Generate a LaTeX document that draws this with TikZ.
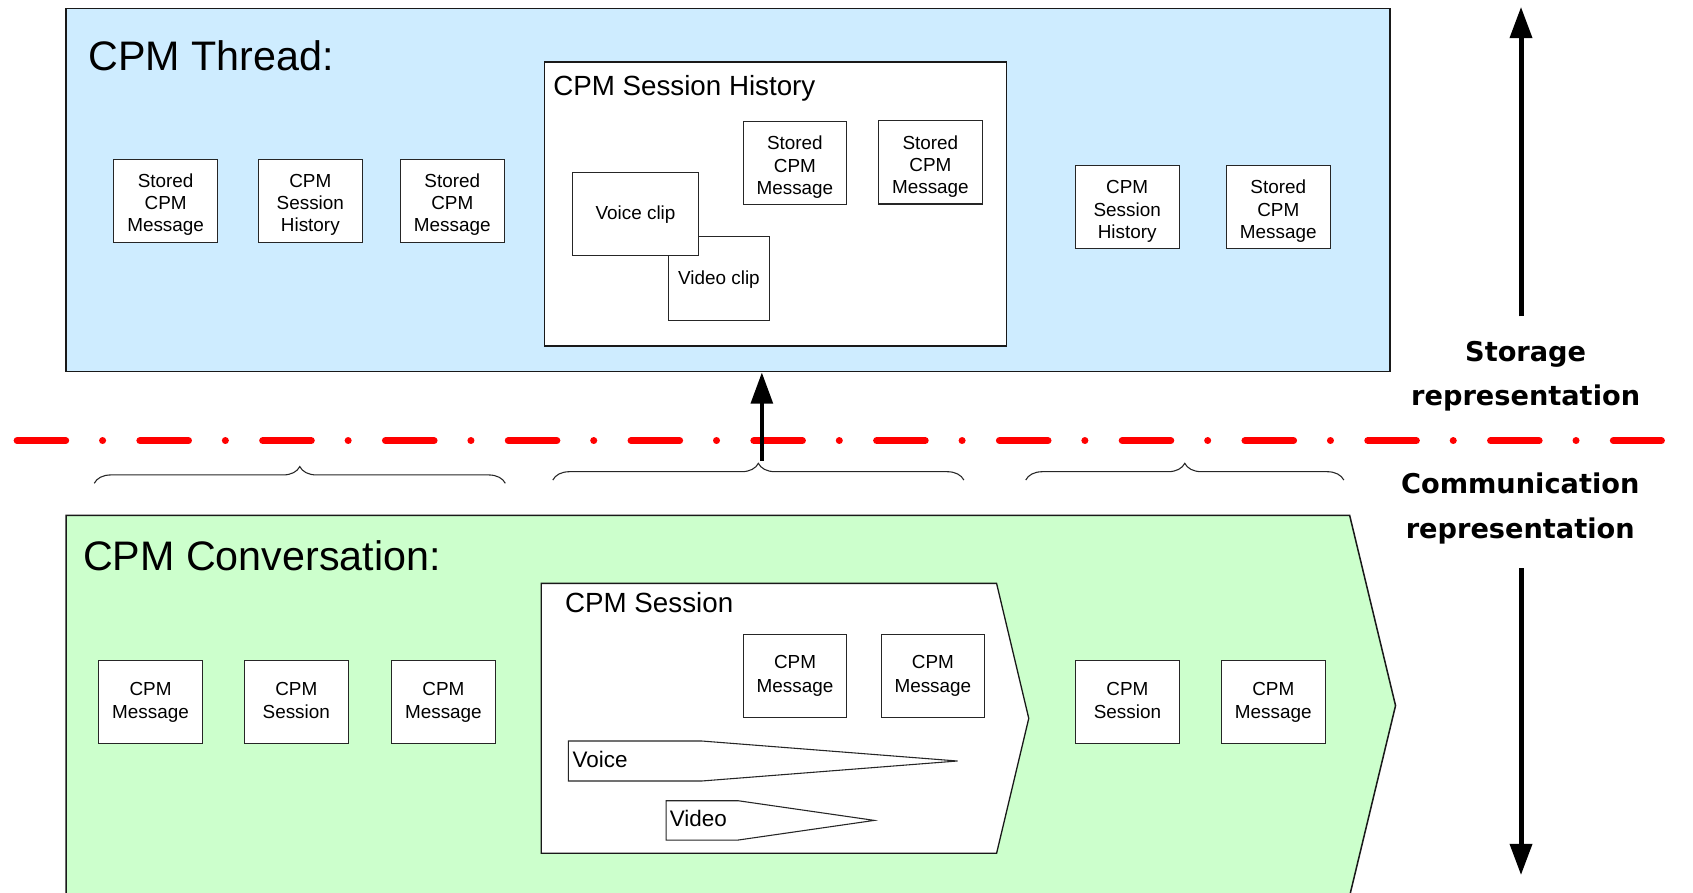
\documentclass[tikz,border=0pt]{standalone}
\usepackage{fontspec}
\setmainfont{Liberation Sans}
\newfontfamily\repfont{DejaVu Sans}
\usetikzlibrary{arrows.meta,decorations.pathreplacing,fit}
\definecolor{threadblue}{RGB}{206,236,255}
\definecolor{convgreen}{RGB}{204,255,204}
\definecolor{dividerred}{RGB}{255,0,0}

\begin{document}
\begin{tikzpicture}[x=0.5pt,y=-0.5pt,
  % text height / depth fix where the last baseline sits inside each box
  box/.style={draw=black!85, line width=0.5pt, fill=white, inner sep=0pt,
    minimum width=48pt, minimum height=38.5pt, align=center,
    font=\fontsize{8.75pt}{10.8pt}\selectfont,
    text height=15.3pt, text depth=0pt},
  box3/.style={box, font=\fontsize{8.75pt}{10.25pt}\selectfont,
    text height=28.6pt},
  box1/.style={box, text height=5.3pt},
  panel/.style={draw=black!90, line width=0.7pt, inner sep=0pt},
  title/.style={anchor=base west, inner sep=0pt, font=\fontsize{19.1pt}{23pt}\selectfont},
  subtitle/.style={anchor=base west, inner sep=0pt, font=\fontsize{12.85pt}{15pt}\selectfont},
  streamlabel/.style={anchor=base west, inner sep=0pt, font=\fontsize{10.4pt}{12pt}\selectfont},
  replabel/.style={anchor=base, inner sep=0pt, font=\repfont\bfseries\fontsize{12.6pt}{15pt}\selectfont},
  bigarrow/.style={line width=2.3pt, -{Triangle[length=14.5pt,width=10pt]}},
  grouping/.style={draw=black!85, line width=0.5pt, decorate,
    decoration={brace, amplitude=7.75pt, aspect=0.5}},
  divider/.style={draw=dividerred, line width=3.25pt, line cap=round,
    dash pattern=on 22.5pt off 17.075pt on 0.01pt off 17.275pt},
]
\useasboundingbox (0,0) rectangle (1568,827);

% ---------- storage side: CPM thread ----------
\node[panel, fill=threadblue, fit={(61.2,7.7) (1287.4,344.2)}] (thread) {};
\node[title] (threadtitle) at (81.5,65.5) {CPM Thread:};

\node[box3] (t1) at (153.4,185.9) {Stored\\CPM\\Message};
\node[box3] (t2) at (287.4,185.9) {CPM\\Session\\History};
\node[box3] (t3) at (418.9,185.9) {Stored\\CPM\\Message};
\node[box3] (t4) at (1044,192) {CPM\\Session\\History};
\node[box3] (t5) at (1183.9,192) {Stored\\CPM\\Message};

\node[panel, fill=white, fit={(504.5,57.4) (932.1,320.5)}] (history) {};
\node[subtitle] (historytitle) at (512,88.8) {CPM Session History};
\node[box3] (h1) at (736.2,151.3) {Stored\\CPM\\Message};
\node[box3] (h2) at (861.7,150.4) {Stored\\CPM\\Message};
\node[box1, minimum width=46.9pt, minimum height=38.6pt] (videoclip) at (665.9,257.8) {Video clip};
\node[box1, minimum width=58pt] (voiceclip) at (588.6,198) {Voice clip};

% ---------- boundary between the two representations ----------
\draw[divider] (15.85,408.1) -- (1538.75,408.1);

\draw[grouping] (87.3,447.6) -- (468,447.6);
\draw[grouping] (512,444.6) -- (892.7,444.6);
\draw[grouping] (950,444.6) -- (1244.6,444.6);
\coordinate (sessiontip) at (705.6,427);

% ---------- communication side: CPM conversation ----------
\begin{scope}
  \clip (0,0) rectangle (1568,827);
  \draw[draw=black!90, line width=0.7pt, fill=convgreen]
    (61.2,477.3) -- (1250,477.3) -- (1292.5,653.5) -- (1250,829.7) -- (61.2,829.7) -- cycle;
\end{scope}
\node[title] (convtitle) at (76.5,528.5) {CPM Conversation:};

\node[box] (c1) at (139.4,650) {CPM\\Message};
\node[box] (c2) at (274.4,650) {CPM\\Session};
\node[box] (c3) at (410.65,650) {CPM\\Message};
\node[box] (c4) at (1044.2,650) {CPM\\Session};
\node[box] (c5) at (1179.25,650) {CPM\\Message};

\draw[draw=black!90, line width=0.6pt, fill=white]
  (501.3,540.3) -- (923,540.3) -- (952.8,665.3) -- (923,790.3) -- (501.3,790.3) -- cycle;
\node[subtitle] (sessiontitle) at (523,567.1) {CPM Session};
\node[box] (s1) at (736.35,625.8) {CPM\\Message};
\node[box] (s2) at (864,625.8) {CPM\\Message};

\draw[draw=black!85, line width=0.5pt, fill=white]
  (526.4,686.3) -- (650.2,686.3) -- (886.8,704.8) -- (650.2,723.3) -- (526.4,723.3) -- cycle;
\node[streamlabel] (voicestream) at (530,711) {Voice};
\draw[draw=black!85, line width=0.5pt, fill=white]
  (617,741.6) -- (683.7,741.6) -- (809.8,759.8) -- (683.7,778) -- (617,778) -- cycle;
\node[streamlabel] (videostream) at (620,765) {Video};

% ---------- arrows and side labels ----------
\draw[bigarrow, line width=2pt] (sessiontip) -- (sessiontip |- thread.south);

\node[replabel] (storage1) at (1413,335) {Storage};
\node[replabel] (storage2) at (1413,376) {representation};
\node[replabel] (comm1) at (1408,457) {Communication};
\node[replabel] (comm2) at (1408,499) {representation};

\coordinate (upfrom) at (1408.7,293);
\coordinate (upto) at (1408.7,6.3);
\coordinate (downfrom) at (1408.7,526.5);
\coordinate (downto) at (1408.7,810.5);
\draw[bigarrow] (upfrom) -- (upto);
\draw[bigarrow] (downfrom) -- (downto);
\end{tikzpicture}
\end{document}
